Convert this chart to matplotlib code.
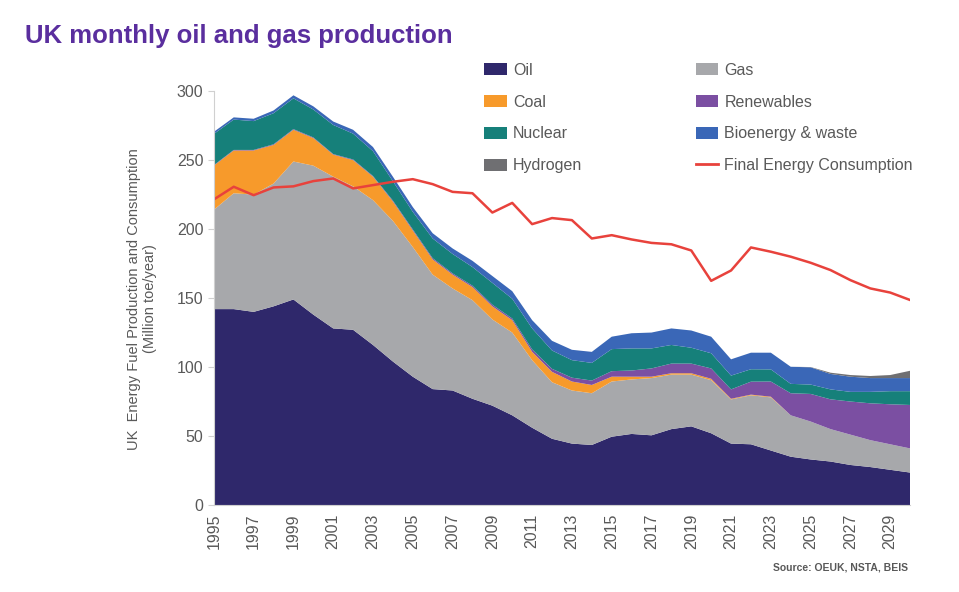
import numpy as np
import matplotlib
matplotlib.use("Agg")
import matplotlib.pyplot as plt
from matplotlib.patches import Patch
from matplotlib.lines import Line2D

plt.rcParams['font.family'] = ['Liberation Sans', 'DejaVu Sans']

# dados (Mtoe/ano)
anos = list(range(1995, 2031))

oil = [142, 142, 140, 144, 149, 138, 128, 127, 116, 104, 93, 84, 83, 77, 72, 65, 56, 48,
       44.5, 43.5, 49.5, 51.5, 50.5, 55, 57, 52, 44.5, 44, 39.5, 35, 33, 31.5, 29, 27.5, 25.5, 23.5]
gas = [72, 84, 85, 89, 100, 108, 110, 104, 105, 102, 94, 83, 74, 71.5, 62.5, 60, 49, 41,
       38.5, 37.5, 40, 39.5, 41.5, 39.5, 37.5, 38.5, 32, 35.5, 38.5, 30, 27.5, 23.5, 22, 19.5, 18.5, 17.5]
coal = [32, 31, 32, 28, 23, 20, 16, 19, 17, 14, 12, 11, 10, 9.5, 9.5, 9, 6, 7.5,
        6.5, 6, 3.5, 2, 1, 1, 1, 1, 0.5, 0.5, 0.5, 0, 0, 0, 0, 0, 0, 0]
renewables = [0.4, 0.4, 0.4, 0.5, 0.5, 0.5, 0.4, 0.5, 0.5, 0.7, 0.8, 0.9, 0.9, 1.0, 1.2, 1.2, 1.8, 2.2,
              2.8, 3.2, 4, 4.5, 6, 7, 7, 7.5, 6.8, 9.4, 11, 16, 20, 21.6, 24, 26.7, 29, 31.5]
nuclear = [22.6, 22, 20.9, 22.5, 22.3, 20.2, 21.1, 18.7, 18, 14, 12.7, 14.3, 14.1, 13.5, 15.8, 14.3, 15.2, 13.3,
           12.7, 12.8, 16, 16, 14.5, 13.5, 11.5, 11, 10, 9, 8.8, 6.8, 6.8, 7.2, 7, 8.3, 9.5, 10]
bioenergia = [1.5, 1.6, 1.7, 2, 2.2, 2.3, 2.5, 2.8, 3, 3.3, 3.5, 3.8, 4, 4.5, 5, 5.5, 6, 7,
              7.5, 8, 9, 11, 11.5, 12, 12.5, 12, 11.8, 12, 12.1, 12.4, 12.5, 11.2, 11, 10, 9.5, 9.5]
hidrogenio = [0] * 30 + [0.2, 0.9, 1.2, 1.5, 2.2, 5.3]
consumo_final = [221.5, 230.7, 224.6, 230.2, 231, 234.8, 236.7, 229.5, 231.9, 234.3, 236.2, 232.6, 227, 226,
                 212, 219, 203.6, 208, 206.5, 193.2, 195.6, 192.5, 190, 189, 184.5, 162.5, 170, 186.7,
                 183.6, 180, 175.6, 170.3, 163, 157, 154, 148.6]

series = [oil, gas, coal, renewables, nuclear, bioenergia, hidrogenio]
nomes = ['Oil', 'Gas', 'Coal', 'Renewables', 'Nuclear', 'Bioenergy & waste', 'Hydrogen']
cores = ['#2F286B', '#A7A8AB', '#F79A2B', '#7B4FA2', '#16807A', '#3A67B7', '#6F6F72']
cor_linha = '#E8423C'
cinza = '#595959'

fig = plt.figure(figsize=(9.59, 5.92), dpi=100)
ax = fig.add_axes([0.223, 0.147, 0.726, 0.699])

ax.stackplot(anos, *series, colors=cores, linewidth=0)
ax.plot(anos, consumo_final, color=cor_linha, linewidth=1.8)

ax.set_xlim(1995, 2030)
ax.set_ylim(0, 300)
ax.set_yticks(range(0, 301, 50))
ax.set_xticks(range(1995, 2030, 2))
ax.tick_params(axis='x', labelrotation=90, labelsize=11.5, colors=cinza, length=0, pad=6)
ax.tick_params(axis='y', labelsize=11.5, colors=cinza, length=4, color='#D0D0D0')
for s in ['top', 'right']:
    ax.spines[s].set_visible(False)
for s in ['left', 'bottom']:
    ax.spines[s].set_color('#D0D0D0')

fig.text(0.148, 0.495, 'UK  Energy Fuel Production and Consumption\n(Million toe/year)',
         rotation=90, ha='center', va='center', fontsize=10.5, color=cinza, linespacing=1.2)

fig.text(0.026, 0.94, 'UK monthly oil and gas production', fontsize=18.5, fontweight='bold',
         color='#5A2E9E', va='center')

fig.text(0.947, 0.042, 'Source: OEUK, NSTA, BEIS', fontsize=7.5, color=cinza,
         ha='right', va='center', fontweight='bold')

# legenda em duas colunas (preenchimento por coluna)
h = {n: Patch(facecolor=c, edgecolor='none') for n, c in zip(nomes, cores)}
h['Final Energy Consumption'] = Line2D([0], [0], color=cor_linha, linewidth=2)
ordem = ['Oil', 'Coal', 'Nuclear', 'Hydrogen', 'Gas', 'Renewables', 'Bioenergy & waste',
         'Final Energy Consumption']
leg = fig.legend([h[n] for n in ordem], ordem, ncol=2, loc='upper left',
                 bbox_to_anchor=(0.490, 0.918), frameon=False, fontsize=11.5,
                 handlelength=1.4, handleheight=0.8, columnspacing=7.1, labelspacing=1.05,
                 handletextpad=0.4)
for t in leg.get_texts():
    t.set_color(cinza)

fig.savefig('out.png', dpi=100, facecolor='white')
